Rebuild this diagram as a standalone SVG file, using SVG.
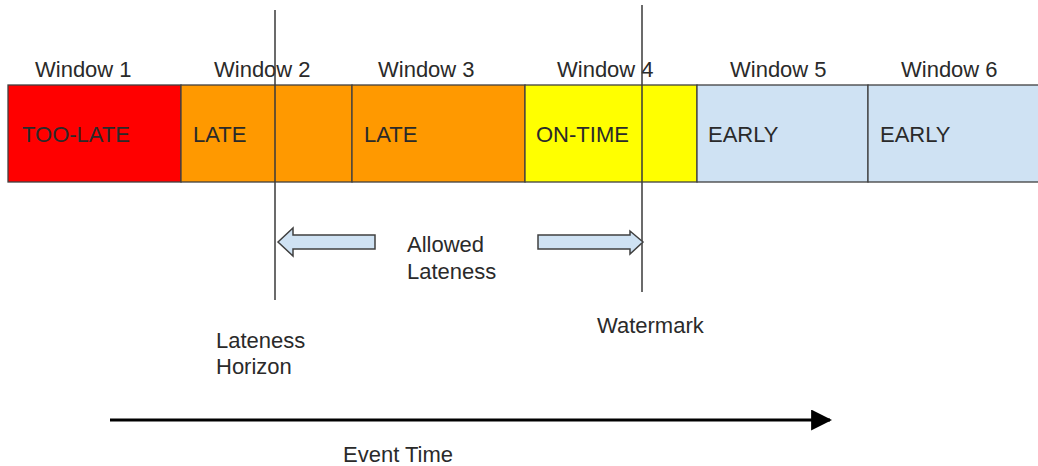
<svg xmlns="http://www.w3.org/2000/svg" width="1038" height="466" viewBox="0 0 1038 466">
<style>
text{font-family:"Liberation Sans",Arial,sans-serif;font-size:22px;fill:#2a2a2a}
.cell{stroke:#404040;stroke-width:1.3}
.vline{stroke:#3a3a3a;stroke-width:1.5;fill:none}
.blk{fill:#cfe2f3;stroke:#404040;stroke-width:1.5}
</style>
<defs>
<marker id="ah" viewBox="0 0 10 10" refX="9" refY="5" markerWidth="7" markerHeight="7" orient="auto" markerUnits="strokeWidth">
<path d="M0,0 L10,5 L0,10 z" fill="#000"/>
</marker>
</defs>
<rect width="1038" height="466" fill="#fff"/>
<g id="window1"><rect class="cell" x="8" y="85" width="173" height="97" fill="#ff0000"/><text x="35" y="77">Window 1</text><text x="22" y="142">TOO-LATE</text></g>
<g id="window2"><rect class="cell" x="181" y="85" width="171" height="97" fill="#ff9900"/><text x="214" y="77">Window 2</text><text x="193" y="142">LATE</text></g>
<g id="window3"><rect class="cell" x="352" y="85" width="173" height="97" fill="#ff9900"/><text x="378" y="77">Window 3</text><text x="364" y="142">LATE</text></g>
<g id="window4"><rect class="cell" x="525" y="85" width="172" height="97" fill="#ffff00"/><text x="557" y="77">Window 4</text><text x="536" y="142">ON-TIME</text></g>
<g id="window5"><rect class="cell" x="697" y="85" width="171" height="97" fill="#cfe2f3"/><text x="730" y="77">Window 5</text><text x="708" y="142">EARLY</text></g>
<g id="window6"><rect class="cell" x="868" y="85" width="172" height="97" fill="#cfe2f3"/><text x="901" y="77">Window 6</text><text x="880" y="142">EARLY</text></g>
<g id="lateness-horizon"><line class="vline" x1="275" y1="10" x2="275" y2="300"/><text x="216" y="348">Lateness</text><text x="216" y="374">Horizon</text></g>
<g id="watermark"><line class="vline" x1="642" y1="5" x2="642" y2="292"/><text x="597" y="333">Watermark</text></g>
<g id="allowed-lateness"><text x="407" y="252">Allowed</text><text x="407" y="279">Lateness</text></g>
<g id="connectors">
<path class="blk" d="M278,242 L293,228 L293,235 L375,235 L375,249 L293,249 L293,256 Z"/>
<path class="blk" d="M538,235 L630,235 L630,231 L643,242 L630,254 L630,249 L538,249 Z"/>
<line x1="110" y1="420" x2="830" y2="420" stroke="#000" stroke-width="3" marker-end="url(#ah)"/>
</g>
<g id="event-time"><text x="343" y="462">Event Time</text></g>
</svg>
